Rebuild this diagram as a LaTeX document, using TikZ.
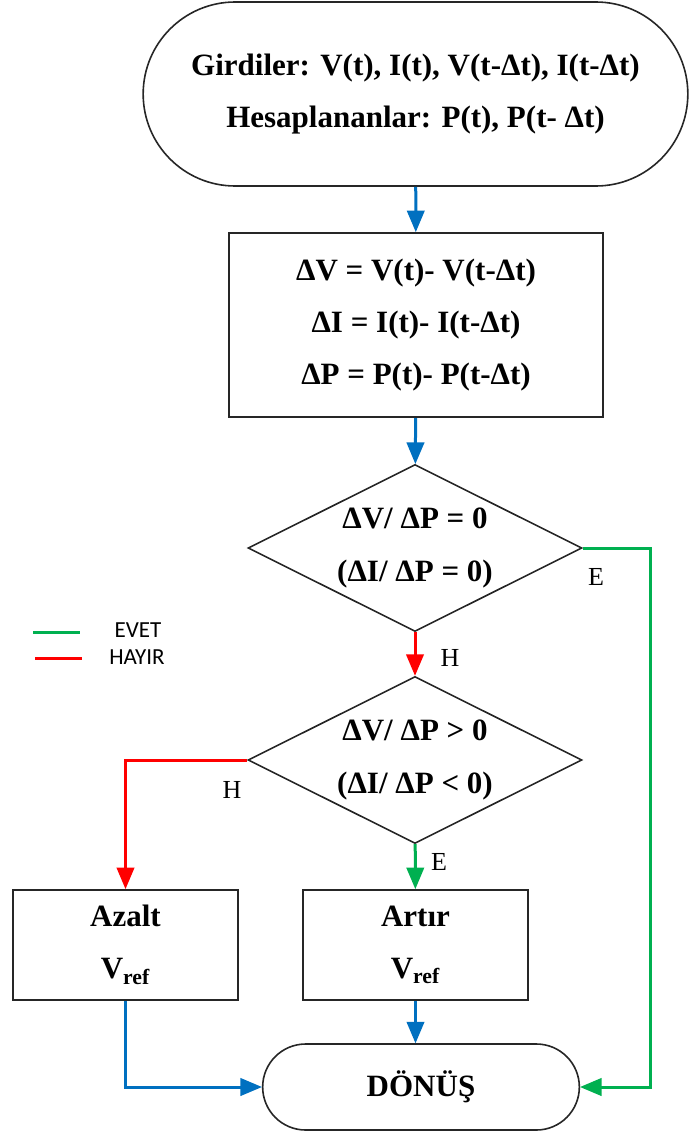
\documentclass[tikz,border=0pt]{standalone}
\usepackage{fontspec}
\setmainfont{Liberation Serif}
\newfontfamily\legendfont{Carlito}
\usepackage{xcolor}
\usepackage{tikz}
\usetikzlibrary{positioning}
\usetikzlibrary{shapes,arrows}
\definecolor{flowblue}{RGB}{0,112,192}
\definecolor{yesgreen}{RGB}{0,176,80}
\definecolor{nored}{RGB}{255,0,0}
\tikzset{%
  block/.style    = {draw=black!85, line width=1pt, rectangle, align=center,
    font=\fontsize{15.5}{26}\selectfont\bfseries},
  term/.style     = {draw=black!85, line width=0.8pt, rounded rectangle, align=center,
    font=\fontsize{15.5}{26}\selectfont\bfseries}, % Start / end
  decision/.style = {draw=black!85, line width=0.8pt, diamond, aspect=2, inner sep=0pt,
    minimum width=167pt, minimum height=83.5pt, align=center,
    font=\fontsize{15.5}{26.5}\selectfont\bfseries},
  flow/.style     = {->, flowblue, line width=1.5pt}, % Plain flow
  yes/.style      = {->, yesgreen, line width=1.5pt}, % Evet
  no/.style       = {->, nored, line width=1.5pt}, % Hayir
  lbl/.style      = {font=\fontsize{13}{15}\selectfont},
  legtext/.style  = {font=\legendfont\fontsize{11.5}{13}\selectfont}
}

\begin{document}
\begin{tikzpicture}[x=0.5pt, y=-0.5pt, >=triangle 45]
  \useasboundingbox (0,0) rectangle (689,1135);

  \draw node at (415.5,94) [term, minimum width=279pt, minimum height=92pt] (start)
    {Girdiler: V(t), I(t), V(t-Δt), I(t-Δt)\\Hesaplananlar: P(t), P(t- Δt)};
  \draw node at (416,325) [block, minimum width=187pt, minimum height=92pt] (diff)
    {ΔV = V(t)- V(t-Δt)\\ΔI = I(t)- I(t-Δt)\\ΔP = P(t)- P(t-Δt)};
  \draw node at (415,548) [decision] (zero) {ΔV/ ΔP = 0\\(ΔI/ ΔP = 0)};
  \draw node at (415,760) [decision] (sign) {ΔV/ ΔP > 0\\(ΔI/ ΔP < 0)};
  \draw node at (125.5,945) [block, minimum width=112.5pt, minimum height=55pt] (azalt)
    {Azalt\\V\textsubscript{ref}};
  \draw node at (415.5,945) [block, minimum width=112.5pt, minimum height=55pt] (artir)
    {Artır\\V\textsubscript{ref}};
  \draw node at (421,1087) [term, minimum width=165pt, minimum height=43pt] (donus) {DÖNÜŞ};
  \coordinate (bypass) at (650,548);

  \draw[flow] (start) -- node {}(diff);
  \draw[flow] (diff) -- node {}(zero);
  \draw[no] (zero) -- node {}(sign);
  \draw[no] (sign.west) -| node {}(azalt.north);
  \draw[yes] (sign) -- node {}(artir);
  \draw[yes] (zero.east) -- (bypass) |- (donus.east);
  \draw[flow] (artir.south) -- (artir.south |- donus.north);
  \draw[flow] (azalt.south) |- (donus.west);

  % branch labels
  \node[lbl] (zeroyes) at (596,577) {E};
  \node[lbl] (zerono) at (450,658) {H};
  \node[lbl] (signno) at (232,790) {H};
  \node[lbl] (signyes) at (439,862) {E};

  % legend
  \draw[yesgreen, line width=1.5pt] (33,632) -- (80,632);
  \draw[nored, line width=1.5pt] (35,658) -- (82,658);
  \node[legtext] (evet) at (138,630) {EVET};
  \node[legtext] (hayir) at (137,657) {HAYIR};
\end{tikzpicture}
\end{document}
